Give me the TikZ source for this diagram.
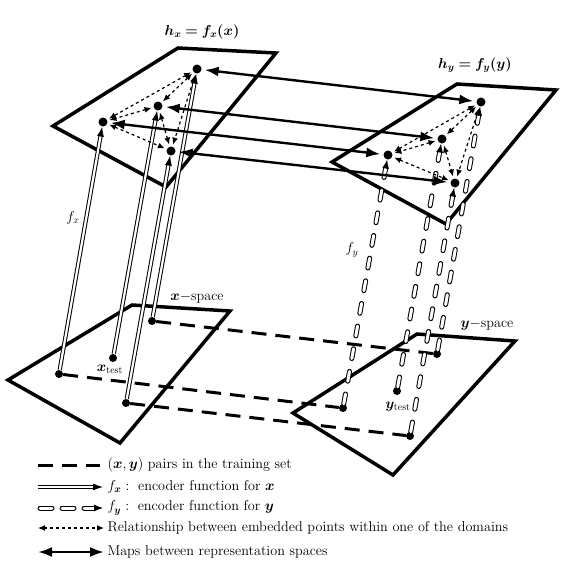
\documentclass[tikz,border=0pt]{standalone}
\usepackage{amsmath}
\usepackage{bm}
\usetikzlibrary{arrows.meta}

\tikzset{
  plane/.style={line width=3.5pt},
  pt/.style={circle, fill=black, inner sep=0pt, minimum size=9pt},
  pair/.style={line width=3pt, dash pattern=on 15pt off 9pt},
  fxmap/.style={double, double distance=2.2pt, line width=1pt, -{Latex[length=10pt,width=7pt]}},
  fymap/.style={double, double distance=3pt, line width=1pt, line cap=round, dash pattern=on 10pt off 13pt, -{Latex[length=9pt,width=7pt]}},
  rel/.style={line width=1.2pt, dash pattern=on 3pt off 3pt, {Latex[length=7pt,width=6pt]}-{Latex[length=7pt,width=6pt]}, shorten <=2pt, shorten >=2pt},
  rep/.style={line width=2.4pt, {Latex[length=14pt,width=10pt]}-{Latex[length=14pt,width=10pt]}, shorten <=3pt, shorten >=3pt},
}

\begin{document}
\begin{tikzpicture}[x=1pt, y=-1pt, every node/.style={font=\fontsize{14.2}{17}\selectfont}]
    \useasboundingbox (0,0) rectangle (580,570);

    % Here are the four planes
    \draw[plane] (53,126) -- (178,48) -- (276,53) -- (166,187) -- cycle;
    \draw[plane] (332,162) -- (457,84) -- (556,90) -- (446,224) -- cycle;
    \draw[plane] (120,443) -- (8,380) -- (132,305) -- (230,311) -- cycle;
    \draw[plane] (393,475) -- (293,413) -- (417,334) -- (515,341) -- cycle;

    % points in the representation spaces
    \node[pt] (xa) at (197,69) {};
    \node[pt] (xb) at (158,106) {};
    \node[pt] (xc) at (103,122) {};
    \node[pt] (xd) at (171,151) {};
    \node[pt] (ya) at (481,102) {};
    \node[pt] (yb) at (442,139) {};
    \node[pt] (yc) at (388,155) {};
    \node[pt] (yd) at (455,183) {};

    % points in the input spaces
    \node[pt, minimum size=8pt] (sxa) at (152,321) {};
    \node[pt, minimum size=8pt] (sxb) at (113,358) {};
    \node[pt, minimum size=8pt] (sxc) at (59,374) {};
    \node[pt, minimum size=8pt] (sxd) at (126,403) {};
    \node[pt, minimum size=8pt] (sya) at (437,354) {};
    \node[pt, minimum size=8pt] (syb) at (397,391) {};
    \node[pt, minimum size=8pt] (syc) at (343,408) {};
    \node[pt, minimum size=8pt] (syd) at (410,436) {};

    % training pairs
    \foreach \p in {a,c,d}
        \draw[pair] (sx\p) -- (sy\p);

    % encoders
    \foreach \p in {a,b,c,d} {
        \draw[fxmap] (sx\p) -- (x\p);
        \draw[fymap] (sy\p) -- (y\p);
    }

    % relations inside one domain
    \foreach \s in {x,y}
        \foreach \a/\b in {a/b, a/c, b/c, a/d, b/d, c/d}
            \draw[rel] (\s\a) -- (\s\b);

    % maps between the two spaces
    \foreach \p in {a,b,c,d}
        \draw[rep] (x\p) -- (y\p);

    % using node for text
    \node (lhx) at (202,32) {$\bm{h_x = f_x(x)}$};
    \node (lhy) at (475,65) {$\bm{h_y = f_y(y)}$};
    \node (lfx) at (73,218) {$f_x$};
    \node (lfy) at (352,250) {$f_y$};
    \node (lxs) at (197,298) {$\bm{x}-$space};
    \node (lys) at (487,325) {$\bm{y}-$space};
    \node (lxt) at (110,369) {$\bm{x}_{\text{test}}$};
    \node (lyt) at (398,407) {$\bm{y}_{\text{test}}$};

    % legend
    \coordinate (l1a) at (38,465);  \coordinate (l1b) at (100,465);
    \coordinate (l2a) at (38,487);  \coordinate (l2b) at (103,487);
    \coordinate (l3a) at (40,508);  \coordinate (l3b) at (103,508);
    \coordinate (l4a) at (38,528);  \coordinate (l4b) at (104,528);
    \coordinate (l5a) at (38,552);  \coordinate (l5b) at (104,552);
    \draw[pair] (l1a) -- (l1b);
    \draw[fxmap] (l2a) -- (l2b);
    \draw[fymap, dash pattern=on 12pt off 10pt] (l3a) -- (l3b);
    \draw[rel, shorten <=0pt, shorten >=0pt] (l4a) -- (l4b);
    \draw[rep, shorten <=0pt, shorten >=0pt] (l5a) -- (l5b);
    \node[anchor=west] (leg1) at (104,465) {$(\bm{x},\bm{y})$ pairs in the training set};
    \node[anchor=west] (leg2) at (104,487) {$f_{\bm{x}}:{}$ encoder function for $\bm{x}$};
    \node[anchor=west] (leg3) at (104,508) {$f_{\bm{y}}:{}$ encoder function for $\bm{y}$};
    \node[anchor=west] (leg4) at (104,528) {Relationship between embedded points within one of the domains};
    \node[anchor=west] (leg5) at (104,552) {Maps between representation spaces};
\end{tikzpicture}
\end{document}
